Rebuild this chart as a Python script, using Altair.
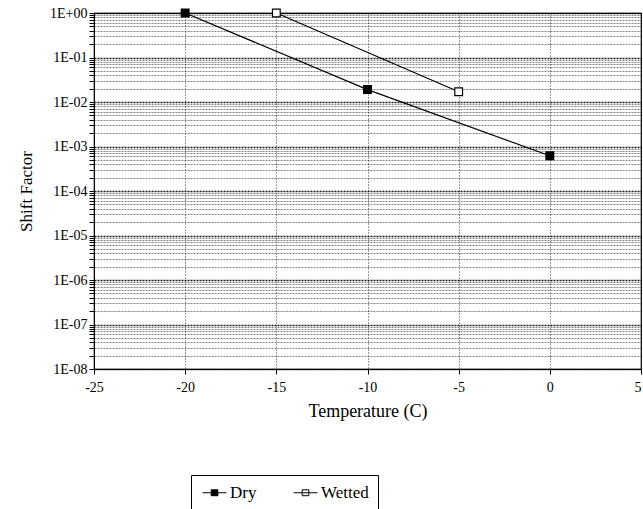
import altair as alt
import pandas as pd

# Data
dry_x = [-20, -10, 0]
dry_y = [1.0, 0.019, 0.00062]
wet_x = [-15, -5]
wet_y = [1.0, 0.017]
series_names = ["Dry", "Wetted"]

x_ticks = [-25, -20, -15, -10, -5, 0, 5]
decades = [-8, -7, -6, -5, -4, -3, -2, -1, 0]
multipliers = [1, 2, 3, 4, 5, 6, 7, 8, 9]

y_values = []
for d in decades:
    for m in multipliers:
        v = m * 10.0 ** d
        if v <= 1.0 + 1e-12:
            y_values.append(v)

df = pd.DataFrame(
    {
        "T": dry_x + wet_x,
        "S": dry_y + wet_y,
        "Series": ["Dry"] * len(dry_x) + ["Wetted"] * len(wet_x),
    }
)

FONT = "Liberation Serif"
is_decade = "abs(log(datum.value)/LN10 - round(log(datum.value)/LN10)) < 0.001"
label_expr = (
    "(" + is_decade + ") ? ('1E' + (round(log(datum.value)/LN10) >= 0 ? '+' : '-') + "
    "pad(abs(round(log(datum.value)/LN10)) + '', 2, '0', 'left')) : ''"
)

x_enc = alt.X(
    "T:Q",
    scale=alt.Scale(domain=[-25, 5], nice=False, zero=False),
    axis=alt.Axis(
        values=x_ticks,
        labelExpr="'' + datum.value",
        title="Temperature (C)",
        titleFont=FONT,
        titleFontSize=18,
        titleFontWeight="normal",
        titleColor="black",
        titlePadding=8,
        labelFont=FONT,
        labelFontSize=14,
        labelColor="black",
        labelPadding=6,
        labelAlign={"condition": {"test": "datum.value == 5", "value": "right"}, "value": "center"},
        grid=True,
        gridColor="black",
        gridDash=[1, 2],
        gridWidth=1,
        gridOpacity=0.8,
        tickColor="black",
        tickSize=5,
        domainColor="black",
        labelFlush=False,
    ),
)

y_enc = alt.Y(
    "S:Q",
    scale=alt.Scale(type="log", domain=[1e-8, 1], nice=False),
    axis=alt.Axis(
        values=y_values,
        labelExpr=label_expr,
        title="Shift Factor",
        titleFont=FONT,
        titleFontSize=17,
        titleFontWeight="normal",
        titleColor="black",
        titlePadding=14,
        labelFont=FONT,
        labelFontSize=14,
        labelColor="black",
        labelPadding=2,
        grid=True,
        gridColor="black",
        gridDash=[2, 1],
        gridWidth={"condition": {"test": is_decade, "value": 1.4}, "value": 0.8},
        gridOpacity={"condition": {"test": is_decade, "value": 0.9}, "value": 0.6},
        tickColor="black",
        tickSize=5,
        domainColor="black",
        labelFlush=False,
        labelOverlap=False,
    ),
)

lines = alt.Chart(df).mark_line(color="black", strokeWidth=1.2).encode(
    x=x_enc, y=y_enc, detail="Series:N"
)

legend_shape = "M-1.6,0 L-0.45,0 M0.45,0 L1.6,0 M-0.45,-0.4 L0.45,-0.4 L0.45,0.4 L-0.45,0.4 Z M-0.45,0 L0.45,0"

points = alt.Chart(df).mark_point(
    shape="square", size=60, stroke="black", strokeWidth=1.2, opacity=1, filled=False
).encode(
    x=alt.X("T:Q"),
    y=alt.Y("S:Q"),
    fill=alt.Fill(
        "Series:N",
        scale=alt.Scale(domain=series_names, range=["black", "white"]),
        legend=alt.Legend(
            title=None,
            orient="none",
            legendX=97,
            legendY=462,
            direction="horizontal",
            symbolType=legend_shape,
            symbolSize=220,
            symbolStrokeColor="black",
            symbolStrokeWidth=1,
            labelFont=FONT,
            labelFontSize=17,
            labelColor="black",
            labelOffset=7,
            strokeColor="black",
            padding=9,
            columnPadding=34,
            symbolOffset=6,
        ),
    ),
)

chart = (
    alt.layer(lines, points)
    .properties(
        width=547,
        height=356,
        padding={"left": 94, "top": 13, "right": 2, "bottom": 140},
        autosize=alt.AutoSizeParams(type="none"),
        background="white",
    )
    .configure_view(stroke="black", strokeWidth=1.2)
    .configure_axis(labelFont=FONT, titleFont=FONT)
    .configure_legend(labelFont=FONT)
)

chart.save("out.html", embed_options={"renderer": "svg", "actions": False})
